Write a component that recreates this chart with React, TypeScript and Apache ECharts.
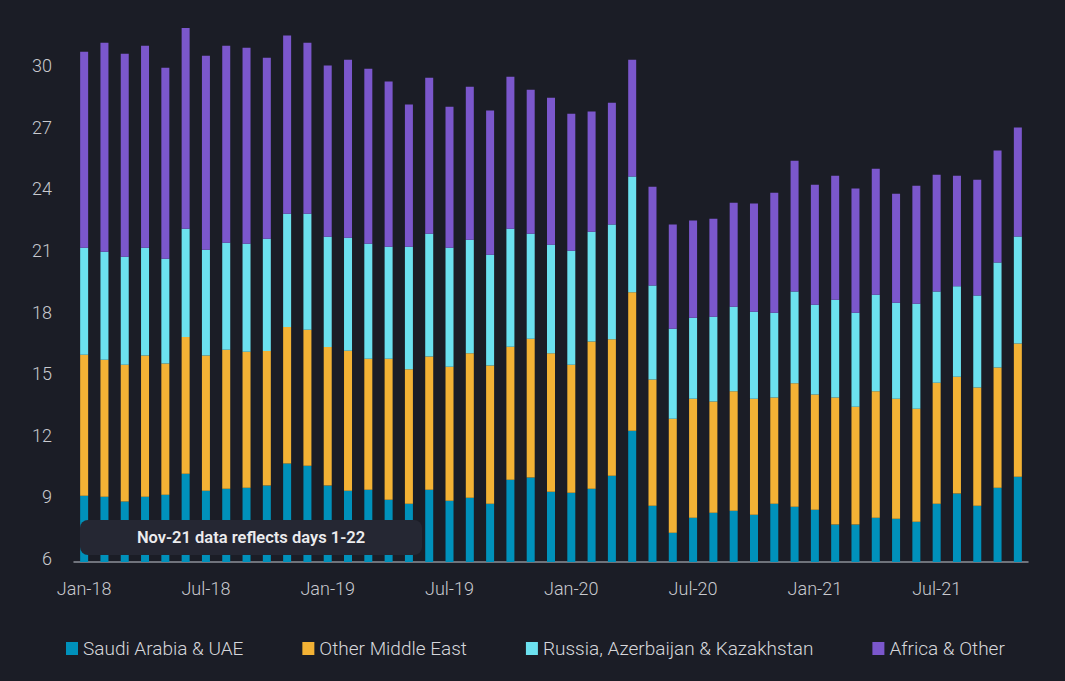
import React, { useEffect, useRef } from "react";
import * as echarts from "echarts";

const categories = [
  "Jan-18","Feb-18","Mar-18","Apr-18","May-18","Jun-18","Jul-18","Aug-18","Sep-18","Oct-18","Nov-18","Dec-18",
  "Jan-19","Feb-19","Mar-19","Apr-19","May-19","Jun-19","Jul-19","Aug-19","Sep-19","Oct-19","Nov-19","Dec-19",
  "Jan-20","Feb-20","Mar-20","Apr-20","May-20","Jun-20","Jul-20","Aug-20","Sep-20","Oct-20","Nov-20","Dec-20",
  "Jan-21","Feb-21","Mar-21","Apr-21","May-21","Jun-21","Jul-21","Aug-21","Sep-21","Oct-21","Nov-21",
];

const saudiUae = [
  9.23, 9.18, 8.94, 9.18, 9.28, 10.3, 9.47, 9.57, 9.62, 9.72, 10.79, 10.69,
  9.72, 9.47, 9.52, 9.03, 8.84, 9.52, 8.98, 9.13, 8.84, 10.01, 10.11, 9.42,
  9.37, 9.57, 10.2, 12.39, 8.74, 7.43, 8.16, 8.4, 8.5, 8.3, 8.84, 8.69,
  8.55, 7.82, 7.82, 8.16, 8.11, 7.96, 8.84, 9.33, 8.74, 9.62, 10.15,
];
const otherMiddleEast = [
  6.86, 6.67, 6.67, 6.87, 6.39, 6.65, 6.58, 6.77, 6.62, 6.55, 6.65, 6.62,
  6.75, 6.81, 6.38, 6.87, 6.54, 6.48, 6.53, 7.03, 6.73, 6.47, 6.76, 6.74,
  6.24, 7.17, 6.64, 6.74, 6.15, 5.55, 5.79, 5.42, 5.81, 5.65, 5.17, 6.01,
  5.6, 6.19, 5.74, 6.15, 5.84, 5.5, 5.89, 5.69, 5.76, 5.85, 6.49,
];
const russiaAzKz = [
  5.21, 5.26, 5.25, 5.25, 5.1, 5.28, 5.15, 5.21, 5.26, 5.47, 5.52, 5.65,
  5.37, 5.51, 5.6, 5.45, 5.97, 5.98, 5.79, 5.53, 5.39, 5.75, 5.11, 5.29,
  5.55, 5.34, 5.59, 5.64, 4.57, 4.38, 3.94, 4.12, 4.12, 4.24, 4.13, 4.47,
  4.38, 4.76, 4.58, 4.7, 4.67, 5.12, 4.44, 4.4, 4.47, 5.11, 5.21,
];
const africaOther = [
  9.54, 10.17, 9.89, 9.84, 9.3, 9.8, 9.45, 9.59, 9.54, 8.81, 8.67, 8.32,
  8.33, 8.67, 8.52, 8.04, 6.92, 7.6, 6.87, 7.45, 7.02, 7.4, 7.01, 7.15,
  6.67, 5.85, 5.93, 5.69, 4.81, 5.07, 4.74, 4.77, 5.06, 5.26, 5.84, 6.37,
  5.84, 6.04, 6.04, 6.14, 5.31, 5.74, 5.69, 5.39, 5.64, 5.45, 5.3,
];

const seriesNames = [
  "Saudi Arabia & UAE",
  "Other Middle East",
  "Russia, Azerbaijan & Kazakhstan",
  "Africa & Other",
];
const seriesColors = ["#0091BB", "#F3B235", "#6CE1EF", "#7B57CC"];
const noteText = "Nov-21 data reflects days 1-22";

export default function App() {
  const ref = useRef<HTMLDivElement>(null);
  useEffect(() => {
    if (!ref.current) return;
    const chart = echarts.init(ref.current, undefined, { renderer: "svg" });
    const dataSets = [saudiUae, otherMiddleEast, russiaAzKz, africaOther];
    chart.setOption({
      animation: false,
      backgroundColor: "#1B1D26",
      textStyle: { fontFamily: "Roboto" },
      grid: { left: 74, right: 37, top: 28, bottom: 119, containLabel: false },
      legend: {
        left: 61,
        top: 634,
        itemWidth: 12,
        itemHeight: 13,
        itemGap: 59,
        icon: "rect",
        textStyle: { color: "#D6D7DB", fontSize: 19, fontWeight: 300, fontFamily: "Roboto" },
        data: seriesNames,
      },
      xAxis: {
        type: "category",
        data: categories,
        axisLine: { lineStyle: { color: "#8D9099", width: 1.5 } },
        axisTick: { show: false },
        axisLabel: {
          interval: 5,
          color: "#C9CACF",
          fontSize: 18,
          fontWeight: 300,
          margin: 17,
        },
      },
      yAxis: {
        type: "value",
        min: 6,
        max: 32,
        interval: 3,
        axisLine: { show: false },
        axisTick: { show: false },
        splitLine: { show: false },
        axisLabel: {
          color: "#C9CACF",
          fontSize: 18,
          fontWeight: 300,
          margin: 22,
          showMaxLabel: false,
          verticalAlign: "bottom",
          lineHeight: 7,
        },
      },
      series: seriesNames.map((name, i) => ({
        name,
        type: "bar",
        stack: "total",
        barWidth: 8,
        z: 2,
        itemStyle: { color: seriesColors[i] },
        data: dataSets[i],
      })),
      graphic: {
        elements: [
          {
            type: "rect",
            z: 100,
            zlevel: 0,
            shape: { x: 80, y: 520, width: 342, height: 35, r: 8 },
            style: { fill: "#252733" },
          },
          {
            type: "text",
            z: 101,
            zlevel: 0,
            x: 251,
            y: 537.5,
            style: {
              text: noteText,
              fill: "#ECECEE",
              font: "600 16.5px Roboto",
              align: "center",
              verticalAlign: "middle",
            },
          },
        ],
      },
    });
    return () => chart.dispose();
  }, []);
  return (
    <div
      ref={ref}
      style={{ position: "fixed", left: 0, top: 0, width: 1065, height: 681 }}
    />
  );
}
